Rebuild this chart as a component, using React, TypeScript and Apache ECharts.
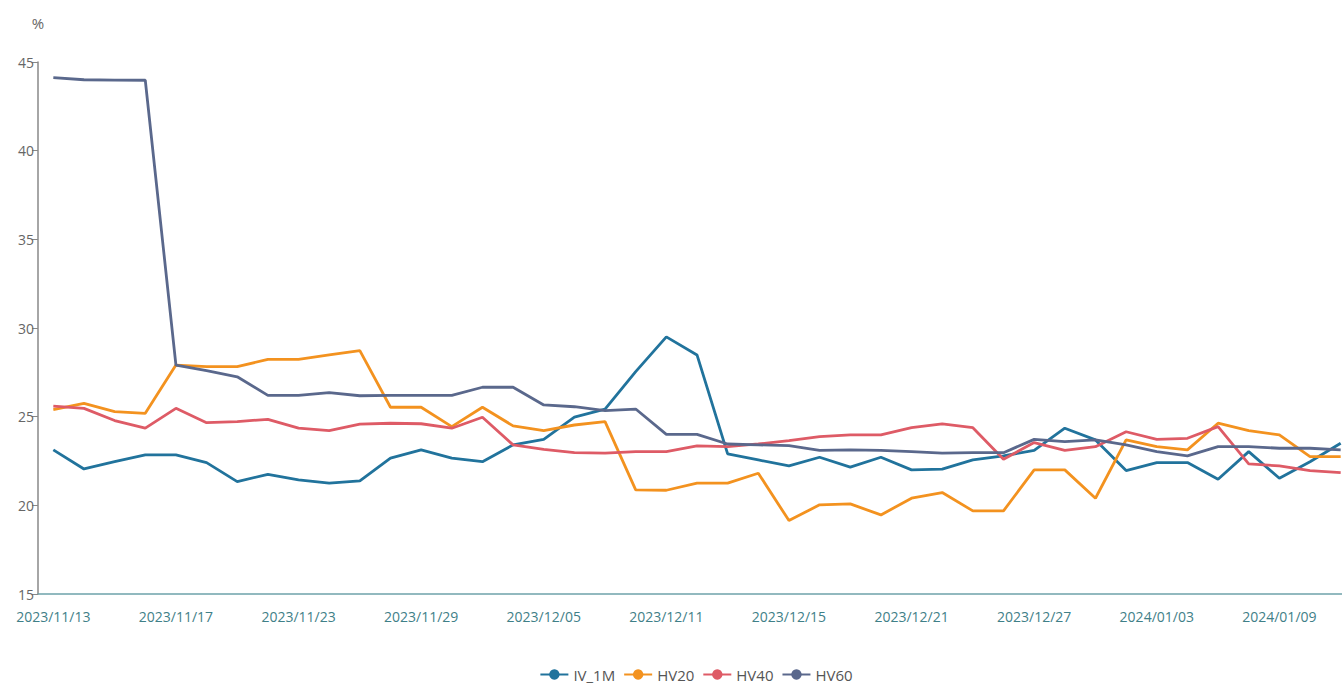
import React, { useEffect, useRef } from "react";
import * as echarts from "echarts";

const dates = [
  "2023/11/13", "2023/11/14", "2023/11/15", "2023/11/16", "2023/11/17",
  "2023/11/20", "2023/11/21", "2023/11/22", "2023/11/23", "2023/11/24",
  "2023/11/27", "2023/11/28", "2023/11/29", "2023/11/30", "2023/12/01",
  "2023/12/04", "2023/12/05", "2023/12/06", "2023/12/07", "2023/12/08",
  "2023/12/11", "2023/12/12", "2023/12/13", "2023/12/14", "2023/12/15",
  "2023/12/18", "2023/12/19", "2023/12/20", "2023/12/21", "2023/12/22",
  "2023/12/25", "2023/12/26", "2023/12/27", "2023/12/28", "2023/12/29",
  "2024/01/02", "2024/01/03", "2024/01/04", "2024/01/05", "2024/01/08",
  "2024/01/09", "2024/01/10", "2024/01/11",
];

const iv1m = [
  23.13, 22.05, 22.46, 22.84, 22.84, 22.41, 21.34, 21.75, 21.43, 21.25,
  21.38, 22.66, 23.13, 22.66, 22.46, 23.41, 23.72, 24.97, 25.42, 27.54,
  29.5, 28.48, 22.9, 22.56, 22.22, 22.71, 22.15, 22.71, 22.0, 22.04,
  22.56, 22.79, 23.1, 24.35, 23.69, 21.96, 22.41, 22.41, 21.47, 23.03,
  21.53, 22.46, 23.5,
];

const hv20 = [
  25.4, 25.75, 25.28, 25.19, 27.91, 27.82, 27.82, 28.23, 28.23, 28.48,
  28.72, 25.53, 25.53, 24.44, 25.53, 24.48, 24.21, 24.53, 24.72, 20.87,
  20.85, 21.25, 21.25, 21.81, 19.14, 20.03, 20.08, 19.46, 20.4, 20.72,
  19.69, 19.69, 22.0, 22.0, 20.4, 23.69, 23.31, 23.13, 24.63, 24.21,
  23.97, 22.75, 22.75,
];

const hv40 = [
  25.6, 25.47, 24.78, 24.35, 25.47, 24.66, 24.72, 24.85, 24.35, 24.21,
  24.58, 24.63, 24.6, 24.35, 24.97, 23.41, 23.16, 22.97, 22.94, 23.03,
  23.03, 23.35, 23.31, 23.46, 23.65, 23.87, 23.97, 23.97, 24.38, 24.59,
  24.38, 22.6, 23.54, 23.1, 23.31, 24.15, 23.72, 23.78, 24.44, 22.34,
  22.22, 21.96, 21.85,
];

const hv60 = [
  44.12, 44.0, 43.98, 43.97, 27.91, 27.6, 27.25, 26.2, 26.2, 26.35,
  26.18, 26.2, 26.2, 26.2, 26.66, 26.66, 25.66, 25.56, 25.34, 25.43,
  24.0, 24.0, 23.46, 23.41, 23.37, 23.1, 23.13, 23.1, 23.03, 22.94,
  22.97, 22.97, 23.72, 23.59, 23.69, 23.41, 23.03, 22.79, 23.31, 23.31,
  23.22, 23.22, 23.13,
];

const seriesNames = ["IV_1M", "HV20", "HV40", "HV60"];
const seriesColors = ["#21739c", "#f3921f", "#de5b66", "#5a688c"];
const yTicks = { min: 15, max: 45, interval: 5 };

const FONT = "'Open Sans', sans-serif";

export default function App() {
  const ref = useRef<HTMLDivElement>(null);

  useEffect(() => {
    if (!ref.current) return;
    const chart = echarts.init(ref.current, undefined, { renderer: "svg" });
    const datasets = [iv1m, hv20, hv40, hv60];
    chart.setOption({
      animation: false,
      color: seriesColors,
      textStyle: { fontFamily: FONT },
      grid: { left: 38, right: 36, top: 62, bottom: 94, containLabel: false },
      legend: {
        bottom: 1,
        left: "center",
        itemWidth: 28,
        itemHeight: 13,
        itemGap: 8,
        textStyle: { color: "#555", fontSize: 15, fontFamily: FONT },
        data: seriesNames,
      },
      xAxis: {
        type: "category",
        data: dates,
        boundaryGap: true,
        axisLine: { lineStyle: { color: "#6ea2aa", width: 1.5 } },
        axisTick: { interval: 3, length: 6, lineStyle: { color: "#6ea2aa" } },
        axisLabel: {
          interval: 3,
          color: "#3f8088",
          fontSize: 14,
          margin: 15,
          fontFamily: FONT,
        },
        splitLine: { show: false },
      },
      yAxis: {
        type: "value",
        min: yTicks.min,
        max: yTicks.max,
        interval: yTicks.interval,
        name: "%",
        nameLocation: "end",
        nameGap: 32,
        nameTextStyle: { color: "#666", fontSize: 15, fontFamily: FONT, align: "center" },
        axisLine: { show: true, lineStyle: { color: "#888", width: 1.5 } },
        axisTick: { show: true, length: 6, lineStyle: { color: "#888" } },
        axisLabel: { color: "#666", fontSize: 14, margin: 4, fontFamily: FONT },
        splitLine: { show: false },
      },
      series: seriesNames.map((name, i) => ({
        name,
        type: "line",
        data: datasets[i],
        symbol: "circle",
        showSymbol: false,
        lineStyle: { width: 2.8, color: seriesColors[i] },
        itemStyle: { color: seriesColors[i] },
      })),
    });
    return () => chart.dispose();
  }, []);

  return (
    <div
      style={{
        position: "fixed",
        left: 0,
        top: 0,
        width: 1342,
        height: 688,
        overflow: "hidden",
        background: "#fff",
      }}
    >
      <div ref={ref} style={{ width: 1392, height: 688 }} />
    </div>
  );
}
